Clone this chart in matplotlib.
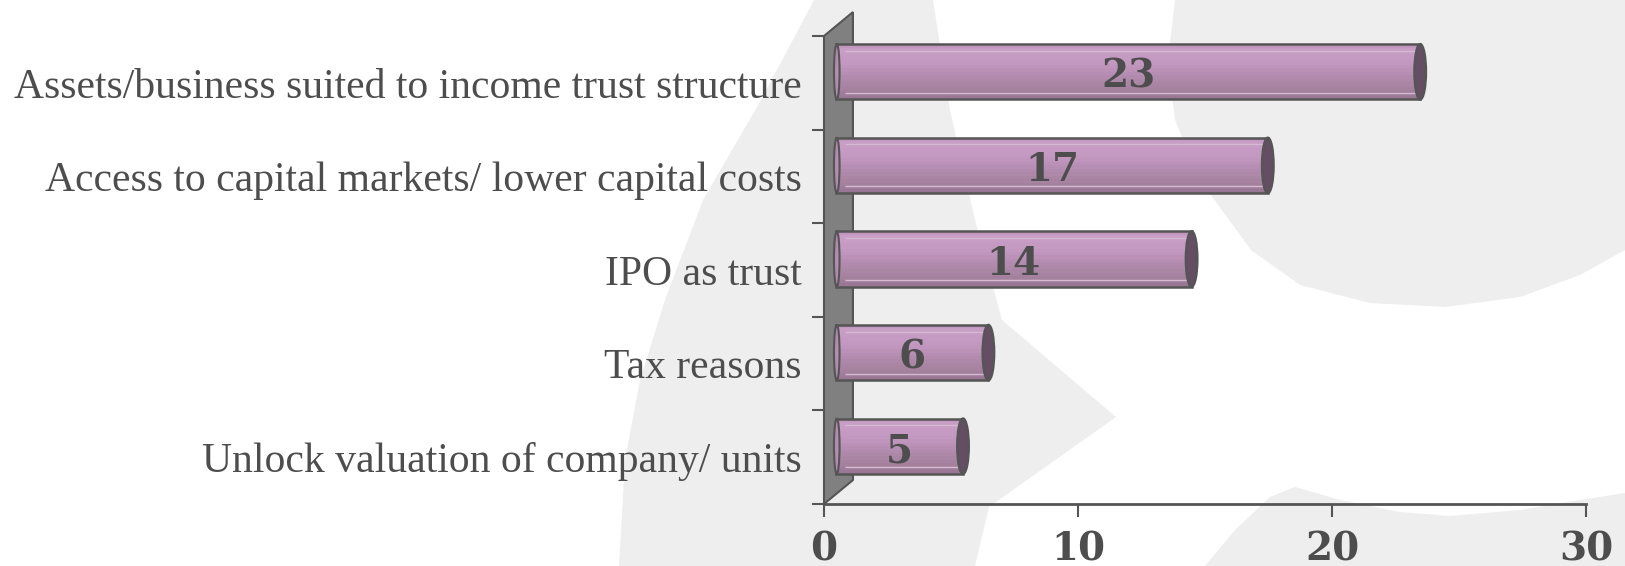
import matplotlib
matplotlib.use('Agg')
import matplotlib.pyplot as plt
import matplotlib.transforms as mtransforms
from matplotlib.patches import Ellipse, Polygon
import numpy as np

# dados do grafico (de cima para baixo)
categorias = ['Assets/business suited to income trust structure',
              'Access to capital markets/ lower capital costs',
              'IPO as trust',
              'Tax reasons',
              'Unlock valuation of company/ units']
valores = [23, 17, 14, 6, 5]
ticks_x = [0, 10, 20, 30]

W, H = 1625, 566
cor_texto = '#4d4d4d'
cor_borda = '#555555'
fonte_num = dict(family='DejaVu Serif', weight='bold')

fig = plt.figure(figsize=(W / 100, H / 100), dpi=100)
fig.patch.set_facecolor('white')

# marca d'agua cinza no fundo
bg = fig.add_axes([0, 0, 1, 1], zorder=0)
bg.set_xlim(0, W)
bg.set_ylim(H, 0)
bg.axis('off')
cinza = '#eeeeee'
crescente = [(814, 0), (761, 100), (703, 200), (665, 300), (640, 380), (625, 460), (619, 566),
             (975, 566), (989, 507), (1116, 417), (1002, 320), (975, 220), (950, 110), (933, 0)]
circulo = [(1175, 0), (1168, 60), (1175, 120), (1200, 180), (1251, 250), (1300, 285), (1370, 303),
           (1445, 307), (1520, 297), (1580, 275), (1625, 250), (1625, 0)]
anel = [(1205, 566), (1235, 530), (1270, 497), (1295, 487), (1340, 500), (1400, 512), (1450, 516),
        (1520, 510), (1580, 500), (1625, 493), (1625, 566)]
for forma in (crescente, circulo, anel):
    bg.add_patch(Polygon(forma, closed=True, facecolor=cinza, edgecolor='none'))

# eixo principal
ax = fig.add_axes([824 / W, 62 / H, 762 / W, 468 / H], zorder=1)
ax.patch.set_alpha(0)
n = len(categorias)
ys = np.arange(n)
ax.set_xlim(0, 30)
ax.set_ylim(n - 0.5, -0.5)

# parede lateral 3D
dx, dy = 1.14, 0.256
parede = Polygon([(0, n - 0.5), (0, -0.5), (dx, -0.5 - dy), (dx, n - 0.5 - dy)], closed=True,
                 facecolor='#808080', edgecolor=cor_borda, lw=1.5, clip_on=False, zorder=1)
ax.add_patch(parede)

# barras deslocadas para o meio da profundidade
tr = mtransforms.offset_copy(ax.transData, fig=fig, x=12, y=11, units='dots')
tr_txt = mtransforms.offset_copy(ax.transData, fig=fig, x=12, y=6, units='dots')
h = 0.59
paradas = [0.0, 0.1, 0.4, 0.6, 0.85, 1.0]
cores = ['#bf94bc', '#c99ec7', '#c095be', '#b08aad', '#a3819d', '#967492']
rgb = np.array([matplotlib.colors.to_rgb(c) for c in cores])
nfaixas = 16
for k in range(nfaixas):
    f = (k + 0.5) / nfaixas
    c = [np.interp(f, paradas, rgb[:, j]) for j in range(3)]
    ax.barh(ys - h / 2 + (k + 0.5) * h / nfaixas, valores, height=h / nfaixas * 1.05,
            color=c, lw=0, transform=tr, zorder=3)
for y, v in zip(ys, valores):
    ax.hlines([y - h / 2 + 0.12 * h, y - h / 2 + 0.88 * h], 0.35, v, colors='#d6bad2',
              lw=1, transform=tr, zorder=4)
ax.barh(ys, valores, height=h, facecolor='none', edgecolor=cor_borda, lw=1.8,
        transform=tr, zorder=5)
for y, v in zip(ys, valores):
    ax.add_patch(Ellipse((0.03, y), 0.22, h, facecolor='#b48cb1', edgecolor=cor_borda,
                         lw=1.5, transform=tr, zorder=5))
    ax.add_patch(Ellipse((v, y), 0.45, h, facecolor='#654e64', edgecolor=cor_borda,
                         lw=1.8, transform=tr, zorder=6))
    ax.text(v / 2, y, str(v), transform=tr_txt, ha='center', va='center', fontsize=28,
            color=cor_texto, zorder=7, **fonte_num)

# eixos e rotulos
for lado in ('top', 'right', 'left'):
    ax.spines[lado].set_visible(False)
ax.spines['bottom'].set_color(cor_borda)
ax.spines['bottom'].set_linewidth(2)
ax.spines['bottom'].set_zorder(2)

ax.set_xticks(ticks_x)
ax.set_xticklabels([str(t) for t in ticks_x], fontsize=28, color=cor_texto, **fonte_num)
ax.tick_params(axis='x', direction='out', length=9, width=1.5, color=cor_borda, pad=10)

ax.set_yticks(ys)
ax.set_yticklabels(categorias, family='Liberation Serif', fontsize=30, color=cor_texto)
ax.set_yticks(np.arange(n + 1) - 0.5, minor=True)
ax.tick_params(axis='y', which='major', length=0, pad=16)
ax.tick_params(axis='y', which='minor', direction='out', length=8.5, width=1.5, color=cor_borda)

fig.savefig('out.png', dpi=100, facecolor='white')
